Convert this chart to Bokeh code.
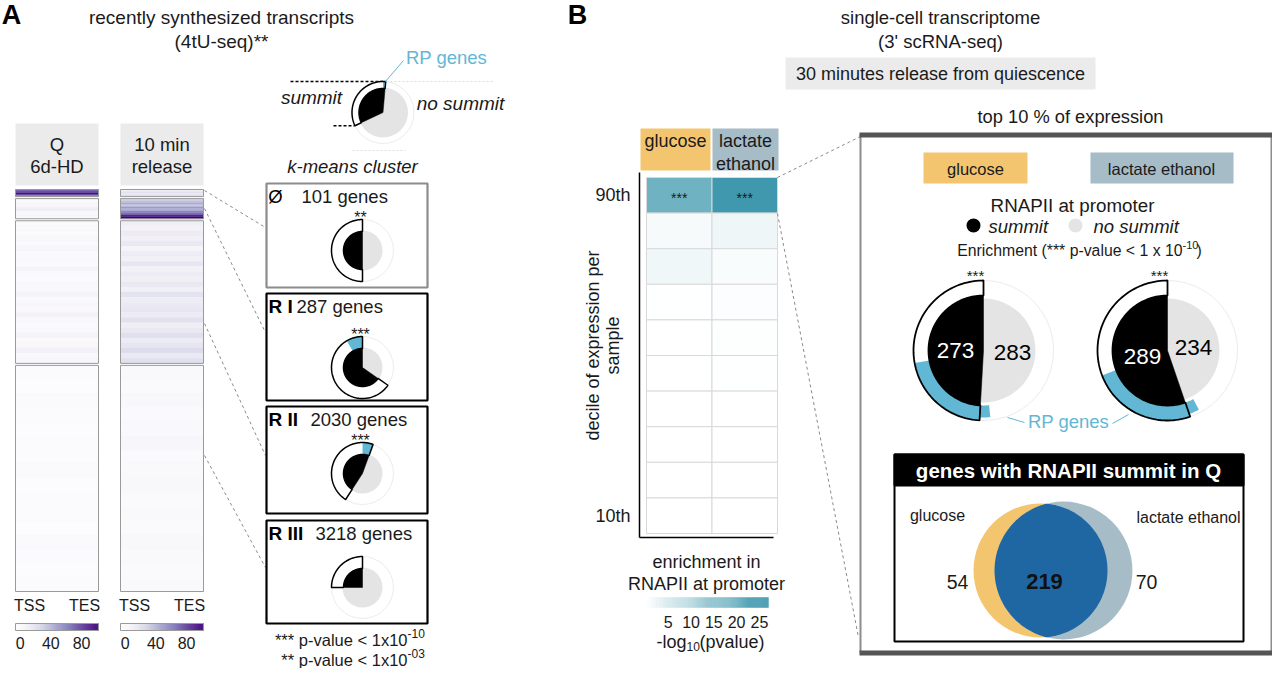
import numpy as np
from bokeh.plotting import figure
from bokeh.models import Range1d, ColumnDataSource
from bokeh.transform import linear_cmap
from bokeh.palettes import Purples256
from bokeh.core.properties import value
from bokeh.embed import file_html
from bokeh.resources import INLINE

# ---------------- data ----------------
cluster_labels = ["Ø", "R I", "R II", "R III"]
cluster_genes = [101, 287, 2030, 3218]
cluster_stars = ["**", "***", "***", ""]
cluster_summit_frac = [0.50, 0.653, 0.464, 0.25]
cluster_rp_frac = [0.0, 0.085, 0.055, 0.0]

# 4tU signal bands per k-means cluster (top to bottom), Q 6d-HD
q_rows = [
    [62, 88, 74, 96, 83, 58],
    [4, 2, 6, 3, 9, 14, 5, 3, 7, 4],
    [2, 3, 1, 4, 2, 5, 1, 3, 2, 6, 2, 1, 4, 3, 7, 2, 5, 3, 8, 4, 2, 3, 6, 2, 4, 9, 3, 5],
    [1, 0, 2, 1, 0, 1, 1, 2, 0, 1, 1, 0, 2, 1, 0, 1],
]
# 10 min release
release_rows = [
    [8, 14, 22, 12, 18, 26],
    [28, 36, 44, 33, 50, 42, 58, 66, 88, 100],
    [12, 8, 14, 10, 16, 7, 13, 10, 18, 9, 14, 11, 16, 10, 19, 13, 15, 17, 14, 20,
     12, 16, 22, 14, 18, 24, 15, 21],
    [3, 2, 4, 2, 3, 5, 2, 3, 4, 2, 3, 2, 4, 3, 2, 3],
]
heat_ticks = [0, 40, 80]

schematic_summit_frac = 0.32
schematic_rp_frac = 0.014

conditions = ["glucose", "lactate ethanol"]
decile_tick_labels = ["90th", "10th"]
enrich_glucose = [19.5, 1.2, 2.2, 0.2, 0.1, 0.1, 0.0, 0.0, 0.0, 0.0]
enrich_lactate = [26.0, 2.4, 0.9, 0.5, 0.3, 0.2, 0.1, 0.0, 0.0, 0.0]
enrich_stars = ["***", "***"]
enrich_ticks = [5, 10, 15, 20, 25]

summit_counts = [273, 289]
nosummit_counts = [283, 234]
rp_summit_counts = [118, 128]
rp_nosummit_counts = [14, 13]

venn_only = [54, 70]
venn_both = 219

# ---------------- style ----------------
FONT = "Liberation Sans"
INK = "#1a1a1a"
ORANGE = "#f3c56f"
SLATE = "#a6bcc7"
RPBLUE = "#62b7d5"
GREY_DISC = "#e4e4e4"
BOXGREY = "#ebebeb"
VENN_BLUE = "#1f67a3"


def interp_palette(c0, c1, n=256):
    a = np.array([int(c0[i:i + 2], 16) for i in (1, 3, 5)], float)
    b = np.array([int(c1[i:i + 2], 16) for i in (1, 3, 5)], float)
    out = []
    for t in np.linspace(0, 1, n):
        c = np.round(a + (b - a) * t).astype(int)
        out.append("#%02x%02x%02x" % tuple(c))
    return out


PURPLES = list(reversed(Purples256))
TEALS = interp_palette("#ffffff", "#3894ab")

W, H = 1272, 668
p = figure(width=W, height=H, x_range=Range1d(0, W), y_range=Range1d(H, 0),
           output_backend="svg", toolbar_location=None, min_border=0,
           x_axis_type=None, y_axis_type=None)
p.grid.visible = False
p.outline_line_color = None
p.background_fill_color = "white"


def T(x, y, s, size=18, align="center", color=INK, style="normal", angle=0.0, baseline="middle"):
    p.text(x=[x], y=[y], text=[s], text_font=value(FONT), text_font_size=f"{size}px",
           text_align=align, text_baseline=baseline, text_color=color,
           text_font_style=style, angle=angle)


def box(l, r, t, b, fill=None, line=None, lw=1.0):
    p.quad(left=[l], right=[r], top=[t], bottom=[b], fill_color=fill, line_color=line, line_width=lw)


def sector(cx, cy, r0, r1, a0, a1):
    # angles in degrees from 12 o'clock, counter-clockwise on screen (y grows downwards)
    n = max(6, int(abs(a1 - a0) / 2) + 2)
    t = np.radians(np.linspace(a0, a1, n))
    xs = list(cx - r1 * np.sin(t))
    ys = list(cy - r1 * np.cos(t))
    if r0 > 0:
        xs += list(cx - r0 * np.sin(t[::-1]))
        ys += list(cy - r0 * np.cos(t[::-1]))
    else:
        xs.append(cx)
        ys.append(cy)
    return xs, ys


def rose(cx, cy, r_in, r_out, r_grey, start, summit_frac, rp_frac, rp_at_end=False,
         rp_nos_frac=0.0, lw=1.5):
    p.circle(x=[cx], y=[cy], radius=r_out, fill_color=None, line_color="#ececec", line_width=1)
    p.circle(x=[cx], y=[cy], radius=r_grey, fill_color=GREY_DISC, line_color=None)
    end = start + 360 * summit_frac
    xs, ys = sector(cx, cy, 0, r_in, start, end)
    p.patch(xs, ys, fill_color="black", line_color="black", line_width=0.5)
    xs, ys = sector(cx, cy, r_in, r_out, start, end)
    p.patch(xs, ys, fill_color="white", line_color=None)
    if rp_frac > 0:
        if rp_at_end:
            a0, a1 = end - 360 * rp_frac, end
        else:
            a0, a1 = start, start + 360 * rp_frac
        bx, by = sector(cx, cy, r_in, r_out, a0, a1)
        p.patch(bx, by, fill_color=RPBLUE, line_color=None)
    if rp_nos_frac > 0:
        bx, by = sector(cx, cy, r_in, r_out - 3, end, end + 360 * rp_nos_frac)
        p.patch(bx, by, fill_color=RPBLUE, line_color=None)
    xs, ys = sector(cx, cy, r_in, r_out, start, end)
    p.patch(xs, ys, fill_color=None, line_color="black", line_width=lw)


def gradient_bar(x0, x1, y0, y1, lo, hi, pal, clo, chi, n=120):
    vals = np.linspace(lo, hi, n)
    edges = np.linspace(x0, x1, n + 1)
    src = ColumnDataSource(dict(l=edges[:-1], r=edges[1:], v=vals))
    cm = linear_cmap("v", pal, clo, chi)
    p.quad(left="l", right="r", top=y0, bottom=y1, source=src, fill_color=cm, line_color=cm, line_width=0.3)


# =============== PANEL A ===============
T(11, 14, "A", size=27, style="bold", color="black")
T(221, 17, "recently synthesized transcripts", size=19)
T(221, 41, "(4tU-seq)**", size=19)

HEAT_X = [(15, 98), (120, 203)]
HEAT_TITLES = [("Q", "6d-HD"), ("10 min", "release")]
for (x0, x1), (l1, l2), rows_all in zip(HEAT_X, HEAT_TITLES, [q_rows, release_rows]):
    box(x0, x1, 123, 185, fill=BOXGREY)
    T((x0 + x1) / 2, 144, l1, size=18.5)
    T((x0 + x1) / 2, 166, l2, size=18.5)
    top, bottom, gap = 189.0, 591.0, 2.0
    total = sum(cluster_genes)
    avail = bottom - top - gap * (len(cluster_genes) - 1)
    y = top
    for rows, n in zip(rows_all, cluster_genes):
        h = avail * n / total
        k = len(rows)
        edges = [y + h * i / k for i in range(k + 1)]
        src = ColumnDataSource(dict(t=edges[:-1], b=edges[1:], v=rows))
        cm = linear_cmap("v", PURPLES, 0, 100)
        p.quad(left=x0, right=x1, top="t", bottom="b", source=src, fill_color=cm,
               line_color=cm, line_width=0.3)
        box(x0, x1, y, y + h, line="#9a9a9a", lw=1)
        y += h + gap
    T(x0 + 14, 605, "TSS", size=16)
    T(x1 - 14, 605, "TES", size=16)
    lo, hi = -6, 102
    gradient_bar(x0, x1, 623, 630, lo, hi, PURPLES, 0, 100)
    box(x0, x1, 623, 630, line="#9a9a9a", lw=1)
    for tv in heat_ticks:
        T(x0 + (tv - lo) / (hi - lo) * (x1 - x0), 642, str(tv), size=16)

# connectors heatmap -> cluster boxes
for ys, ye in [(190, 227), (208, 332), (323, 455), (455, 567)]:
    p.line([204, 265], [ys, ye], line_color="#8a8a8a", line_dash="3 3", line_width=1)

# schematic rose
SCX, SCY = 382.5, 112
R_OUT_S = 31
p.line([290, SCX], [SCY - R_OUT_S, SCY - R_OUT_S], line_color="black", line_dash="3 2", line_width=1.5)
p.line([386, 493], [SCY - R_OUT_S, SCY - R_OUT_S], line_color="#dcdcdc", line_dash="2 2", line_width=1)
p.line([352, 405], [150, 150], line_color="#dcdcdc", line_dash="2 2", line_width=1)
rose(SCX, SCY, 24, R_OUT_S, 25, -360 * schematic_rp_frac, schematic_summit_frac + schematic_rp_frac,
     schematic_rp_frac, lw=1.5)
end_a = np.radians(360 * schematic_summit_frac)
p.line([333, SCX - R_OUT_S * np.sin(end_a)], [SCY - R_OUT_S * np.cos(end_a), SCY - R_OUT_S * np.cos(end_a)],
       line_color="black", line_dash="3 2", line_width=1.5)
p.line([385, 403], [81, 60], line_color=RPBLUE, line_width=1)
T(446, 57, "RP genes", size=18.5, color=RPBLUE)
T(311, 97, "summit", size=19, style="italic")
T(460, 103, "no summit", size=19, style="italic")
T(352, 166, "k-means cluster", size=18.5, style="italic")

# cluster boxes
BOX_TOP = [183, 293, 406, 520]
BOX_H = [104, 107, 107, 103]
PIE_CY = [250, 367, 473, 587]
PIE_START = [0, 0, -20, 0]
TITLE_X = [301, 296, 310, 315]
for i, lab in enumerate(cluster_labels):
    t = BOX_TOP[i]
    box(266, 427, t, t + BOX_H[i], line="#8c8c8c" if i == 0 else "black", lw=2.2)
    if i == 0:
        T(275, t + 13, lab, size=18.5, color="black")
    else:
        T(268, t + 13, lab, size=19, align="left", style="bold", color="black")
    T(TITLE_X[i], t + 13, f"{cluster_genes[i]} genes", size=18.5, align="left")
    if cluster_stars[i]:
        T(360, PIE_CY[i] - 33, cluster_stars[i], size=16)
    rose(362, PIE_CY[i], 19, 31, 20, PIE_START[i], cluster_summit_frac[i], cluster_rp_frac[i])

T(407, 639, "*** p-value < 1x10", size=16.5, align="right")
T(407, 633, "-10", size=12, align="left")
T(407, 659, "** p-value < 1x10", size=16.5, align="right")
T(407, 653, "-03", size=12, align="left")

# =============== PANEL B ===============
T(577, 14, "B", size=27, style="bold", color="black")
T(940, 17, "single-cell transcriptome", size=18.5)
T(940, 41, "(3' scRNA-seq)", size=18.5)
box(785, 1095, 57, 89, fill=BOXGREY)
T(940, 73, "30 minutes release from quiescence", size=18)

# decile heatmap
box(640, 710, 128, 170, fill=ORANGE)
box(712, 778, 128, 170, fill=SLATE)
T(675, 140, "glucose", size=18)
T(745, 140, "lactate", size=18)
T(745, 163, "ethanol", size=18)

HX = [646, 711.5, 777]
HY0, HY1 = 177.0, 533.0
nrow = len(enrich_glucose)
rh = (HY1 - HY0) / nrow
cells = dict(l=[], r=[], t=[], b=[], v=[])
for j, series in enumerate([enrich_glucose, enrich_lactate]):
    for i, v in enumerate(series):
        cells["l"].append(HX[j]); cells["r"].append(HX[j + 1])
        cells["t"].append(HY0 + i * rh); cells["b"].append(HY0 + (i + 1) * rh)
        cells["v"].append(v)
p.quad(left="l", right="r", top="t", bottom="b", source=ColumnDataSource(cells),
       fill_color=linear_cmap("v", TEALS, 0, 27), line_color="#d9d9d9", line_width=1)
for j, s in enumerate(enrich_stars):
    T((HX[j] + HX[j + 1]) / 2, HY0 + rh / 2 + 3, s, size=14)
p.line([639, 639], [172, 537], line_color="black", line_width=1.5)
p.line([639, 773], [537, 537], line_color="black", line_width=1.5)
T(630, HY0 + rh / 2, decile_tick_labels[0], size=18, align="right")
T(630, HY0 + (nrow - 0.5) * rh, decile_tick_labels[1], size=18, align="right")
T(592, 345, "decile of expression per", size=18, angle=np.pi / 2)
T(612, 345, "sample", size=18, angle=np.pi / 2)

T(706, 561, "enrichment in", size=18)
T(706, 583, "RNAPII at promoter", size=18)
gradient_bar(645, 768, 597, 607, 0, 27, TEALS, 0, 27)
for tv in enrich_ticks:
    T(645 + tv / 27 * 123, 621, str(tv), size=16)
T(686, 641, "-log", size=18, align="right")
T(686, 646, "10", size=12, align="left")
T(699, 641, "(pvalue)", size=18, align="left")

# connectors to zoom box
p.line([777, 860], [177, 136], line_color="#8a8a8a", line_dash="3 3", line_width=1)
p.line([777, 858], [213, 637], line_color="#8a8a8a", line_dash="3 3", line_width=1)

# big box
T(1070, 116, "top 10 % of expression", size=18.3)
p.line([860, 860], [134, 652], line_color="#8c8c8c", line_width=2)
p.line([1271, 1271], [134, 652], line_color="#8c8c8c", line_width=2)
box(859, 1272, 132, 137, fill="#555555")
box(859, 1272, 650, 655, fill="#555555")

box(923, 1027, 152, 183, fill=ORANGE)
box(1090, 1233, 152, 183, fill=SLATE)
T(975, 168, conditions[0], size=16.5)
T(1161, 168, conditions[1], size=16.5)
T(1072, 205, "RNAPII at promoter", size=18.8)
p.circle(x=[973], y=[225], radius=7, fill_color="black", line_color=None)
p.circle(x=[1075], y=[225], radius=7, fill_color=GREY_DISC, line_color=None)
T(988, 226, "summit", size=18.5, align="left", style="italic")
T(1093, 226, "no summit", size=18.5, align="left", style="italic")
T(1182, 250, "Enrichment (*** p-value < 1 x 10", size=15.8, align="right")
T(1182, 244, "-10", size=11, align="left")
T(1196, 250, ")", size=15.8, align="left")

PIE_CX = [983, 1167]
PIE_CYB = 350
NUM_OFF = [((-28, 0), (29, 2)), ((-25, 6), (26, -3))]
for k in range(2):
    tot = summit_counts[k] + nosummit_counts[k]
    rose(PIE_CX[k], PIE_CYB, 55, 70, 52, 0, summit_counts[k] / tot,
         rp_summit_counts[k] / tot, rp_at_end=True,
         rp_nos_frac=rp_nosummit_counts[k] / tot, lw=1.8)
    T(PIE_CX[k] - 8, 275, "***", size=15)
    (ax, ay), (bx, by) = NUM_OFF[k]
    T(PIE_CX[k] + ax, PIE_CYB + ay, str(summit_counts[k]), size=22.5, color="white")
    T(PIE_CX[k] + bx, PIE_CYB + by, str(nosummit_counts[k]), size=22.5, color="black")

T(1068, 421, "RP genes", size=18.5, color=RPBLUE)
p.line([1007, 1024], [417, 422], line_color=RPBLUE, line_width=1)
p.line([1112, 1128], [423, 414], line_color=RPBLUE, line_width=1)

# venn box
box(894, 1243, 454, 641, fill="white", line="black", lw=2)
box(894, 1243, 454, 485, fill="black", line="black", lw=2)
T(1068, 470, "genes with RNAPII summit in Q", size=20.5, style="bold", color="white")

tot_g = venn_only[0] + venn_both
tot_l = venn_only[1] + venn_both
kr = 67 / np.sqrt(tot_g)
r1, r2 = kr * np.sqrt(tot_g), kr * np.sqrt(tot_l)
x1c, x2c, vcy = 1040.0, 1063.0, 570.0
p.circle(x=[x1c], y=[vcy], radius=r1, fill_color=ORANGE, line_color=None)
p.circle(x=[x2c], y=[vcy], radius=r2, fill_color=SLATE, line_color=None)
d = x2c - x1c
a = (d * d + r1 * r1 - r2 * r2) / (2 * d)
phi1 = np.arccos(a / r1)
phi2 = np.arccos((d - a) / r2)
t1 = np.linspace(-phi1, phi1, 90)
t2 = np.linspace(np.pi - phi2, np.pi + phi2, 90)
lx = list(x1c + r1 * np.cos(t1)) + list(x2c + r2 * np.cos(t2))
ly = list(vcy + r1 * np.sin(t1)) + list(vcy + r2 * np.sin(t2))
p.patch(lx, ly, fill_color=VENN_BLUE, line_color=None)
T(937, 515, conditions[0], size=16)
T(1188, 517, conditions[1], size=16)
T(957, 581, str(venn_only[0]), size=19.5)
T(1044, 581, str(venn_both), size=22, style="bold", color="#111111")
T(1146, 581, str(venn_only[1]), size=19.5)

open("out.html", "w").write(file_html(p, INLINE))
